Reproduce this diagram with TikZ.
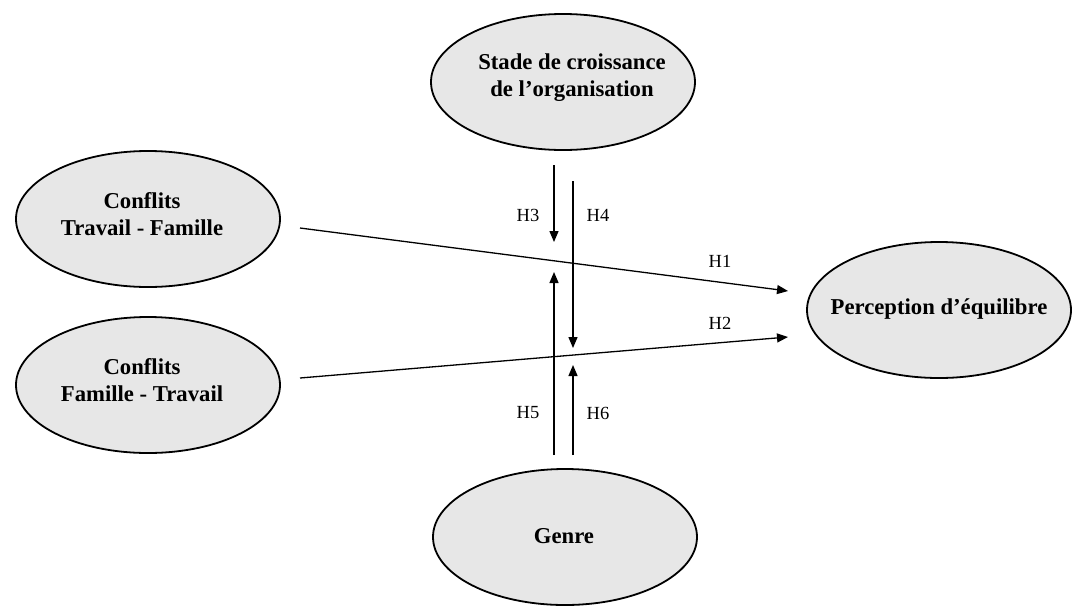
\documentclass[tikz,border=0pt]{standalone}
\usepackage{fontspec}
\setmainfont{Liberation Serif}
\usetikzlibrary{shapes.geometric,arrows.meta}
\definecolor{ellfill}{HTML}{E7E7E7}
\begin{document}
\begin{tikzpicture}[x=1pt,y=-1pt,
  ell/.style={ellipse, draw, line width=1.8pt, fill=ellfill, minimum width=264pt, minimum height=136pt, inner sep=0pt},
  txt/.style={align=center, inner sep=0pt, font=\fontsize{22.7}{27}\selectfont\bfseries},
  arr/.style={line width=1.3pt, -{Triangle[length=11pt,width=9pt]}},
  lab/.style={font=\fontsize{18.5}{20}\selectfont, inner sep=0pt}]
\useasboundingbox (0,0) rectangle (1074,606);
% ellipses
\node[ell, label={[txt, xshift=9pt, yshift=4pt]center:{Stade de croissance\\de l’organisation}}] (stade) at (563,82) {};
\node[ell, label={[txt, xshift=-6pt, yshift=5pt]center:{Conflits\\Travail - Famille}}] (tf) at (148,219) {};
\node[ell, label={[txt, xshift=-6pt, yshift=5pt]center:{Conflits\\Famille - Travail}}] (ft) at (148,385) {};
\node[ell, label={[txt, yshift=1pt]center:{Perception d’équilibre}}] (perc) at (939,310) {};
\node[ell, label={[txt, xshift=-1pt, yshift=1pt]center:{Genre}}] (genre) at (565,537) {};
% connector end points
\coordinate (h1s) at (300,228); \coordinate (h1e) at (788,291);
\coordinate (h2s) at (300,378); \coordinate (h2e) at (788,337);
\coordinate (h3s) at (554,165); \coordinate (h3e) at (554,242);
\coordinate (h4s) at (573,181); \coordinate (h4e) at (573,348);
\coordinate (h5s) at (554,455); \coordinate (h5e) at (554,272);
\coordinate (h6s) at (573,455); \coordinate (h6e) at (573,365);
% connectors
\draw[arr] (h1s) -- (h1e);
\draw[arr] (h2s) -- (h2e);
\draw[arr] (h3s) -- (h3e);
\draw[arr] (h4s) -- (h4e);
\draw[arr] (h5s) -- (h5e);
\draw[arr] (h6s) -- (h6e);
% labels
\node[lab] (l1) at (720,261) {H1};
\node[lab] (l2) at (720,323) {H2};
\node[lab] (l3) at (528,215) {H3};
\node[lab] (l4) at (598,215) {H4};
\node[lab] (l5) at (528,413) {H5};
\node[lab] (l6) at (598,413) {H6};
\end{tikzpicture}
\end{document}
